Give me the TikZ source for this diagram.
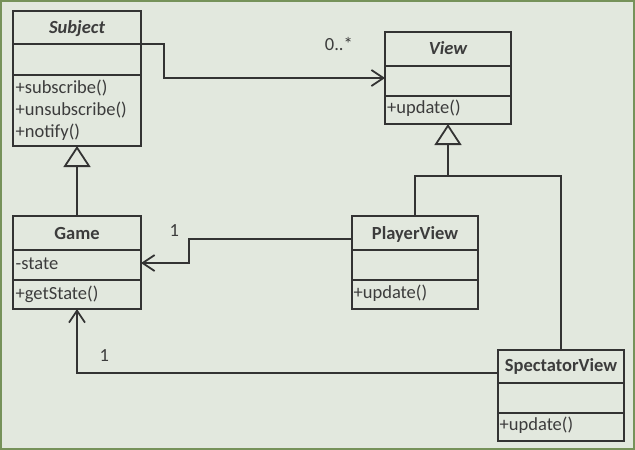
\documentclass[tikz,border=0pt]{standalone}
\usepackage{fontspec}
\setmainfont{Carlito}
\usetikzlibrary{arrows.meta}
\definecolor{bgc}{HTML}{E2E8DE}
\definecolor{frm}{HTML}{76925A}
\definecolor{ink}{HTML}{333333}
\definecolor{txt}{HTML}{3C3C3C}
\newcommand\fsz{\fontsize{18.5}{22}\selectfont}
\begin{document}
\begin{tikzpicture}[x=1pt,y=-1pt,
  cls/.style={draw=ink,line width=1.8pt,anchor=north west,inner sep=0pt,outer sep=0pt},
  div/.style={draw=ink,line width=1.8pt},
  lbl/.style={anchor=base west,inner sep=0pt,text=txt,font=\fsz},
  ttl/.style={anchor=base,inner sep=0pt,text=txt,font=\fsz\bfseries},
  ttli/.style={anchor=base,inner sep=0pt,text=txt,font=\fsz\bfseries\itshape},
  mult/.style={anchor=base,inner sep=0pt,text=txt,font=\fsz},
  conn/.style={draw=ink,line width=1.8pt},
  inh/.style={conn,-{Triangle[open,length=21pt,width=27pt,line width=1.8pt,fill=bgc]}},
  assoc/.style={conn,-{Straight Barb[length=12pt,width=16pt,line width=1.8pt]}}]
\useasboundingbox (0,0) rectangle (635,450);
\fill[frm] (0,0) rectangle (635,450);
\fill[bgc] (2,2) rectangle (633,448);
% Subject
\node[cls,minimum width=128pt,minimum height=135pt] (Subject) at (13,11) {};
\draw[div] (13,44) -- (141,44) (13,75) -- (141,75);
\node[ttli] (tS) at (77,33.3) {Subject};
\node[lbl] (m1) at (15.5,93.5) {+subscribe()};
\node[lbl] (m2) at (15.5,115.7) {+unsubscribe()};
\node[lbl] (m3) at (15.5,137.5) {+notify()};
% View
\node[cls,minimum width=126pt,minimum height=92pt] (View) at (385,32) {};
\draw[div] (385,66) -- (511,66) (385,96) -- (511,96);
\node[ttli] (tV) at (448,54) {View};
\node[lbl] (vu) at (387,113.3) {+update()};
% Game
\node[cls,minimum width=128pt,minimum height=93pt] (Game) at (13,216) {};
\draw[div] (13,250) -- (141,250) (13,280) -- (141,280);
\node[ttl] (tG) at (77,239.3) {Game};
\node[lbl] (ga) at (15.5,269.3) {-state};
\node[lbl] (gm) at (15.5,299.3) {+getState()};
% PlayerView
\node[cls,minimum width=126pt,minimum height=93pt] (PlayerView) at (352,216) {};
\draw[div] (352,250) -- (478,250) (352,280) -- (478,280);
\node[ttl] (tP) at (415,239.3) {PlayerView};
\node[lbl] (pu) at (353.5,298.3) {+update()};
% SpectatorView
\node[cls,minimum width=126pt,minimum height=91pt] (SpectatorView) at (498,350) {};
\draw[div] (498,383) -- (624,383) (498,413) -- (624,413);
\node[ttl] (tSp) at (561,371.7) {SpectatorView};
\node[lbl] (su) at (499.5,430.7) {+update()};
% inheritance
\draw[inh] (Game.north) -- (Subject.south);
\coordinate (j) at (448,176);
\draw[inh] (PlayerView.north) |- (j) -- (View.south);
\draw[conn] (SpectatorView.north) |- (j);
% associations
\coordinate (a1) at (164,44);
\draw[assoc] (Subject.east |- a1) -- (a1) |- (View.west |- 0,78);
\coordinate (a2) at (189,239);
\draw[assoc] (PlayerView.west |- a2) -- (a2) |- (Game.east |- 0,263);
\draw[assoc] (SpectatorView.west |- 0,373) -| (Game.south);
\node[lbl] (l1) at (324.7,50.7) {0..*};
\node[mult] (l2) at (174.3,236) {1};
\node[mult] (l3) at (104.3,361.7) {1};
\end{tikzpicture}
\end{document}
